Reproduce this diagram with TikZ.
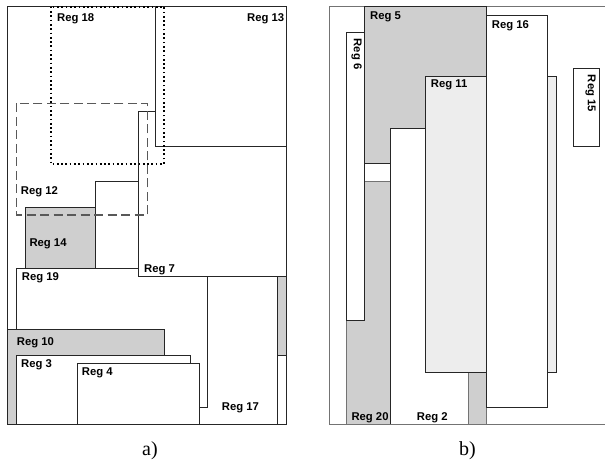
\documentclass[tikz,border=0pt]{standalone}
\usepackage{fontspec}
\setmainfont{Liberation Serif}
\newfontfamily\regfont{Liberation Sans}
\tikzset{
  reg/.style={draw=black!85, line width=0.8pt, fill=white},
  gray reg/.style={reg, fill=black!19},
  light reg/.style={reg, fill=black!7},
  frameb/.style={draw=black!55, line width=1pt, fill=white},
  lbl/.style={font=\regfont\bfseries\fontsize{11.3}{13}\selectfont, inner sep=0pt, anchor=base west},
  rlbl/.style={font=\regfont\bfseries\fontsize{11.3}{13}\selectfont, inner sep=0pt, rotate=-90},
  captxt/.style={font=\fontsize{20}{23}\selectfont, inner sep=0pt},
  dashreg/.style={draw=black!65, line width=1.2pt, dash pattern=on 9pt off 4.5pt},
  dotreg/.style={draw=black, line width=1.7pt, dash pattern=on 1.7pt off 2.6pt}
}
\begin{document}
\begin{tikzpicture}[x=1pt,y=-1pt]
\useasboundingbox (0,0) rectangle (605,464);
\clip (0,0) rectangle (605,464);
% ---------- panel a ----------
\draw[reg] (7.3,6.7) rectangle (286,424.3);
\draw[reg] (180,276.7) rectangle (277.3,424.3);
\draw[gray reg] (277.3,276.7) rectangle (286,355);
\draw[reg] (16.3,268.3) rectangle (207.7,407.3);
\draw[reg] (95,181.7) rectangle (138.3,268.3);
\draw[gray reg] (25.3,207.3) rectangle (95,268.3);
\draw[reg] (138.3,111.7) rectangle (286,276.7);
\draw[reg] (155.3,6.7) rectangle (286,146);
\draw[gray reg] (7.3,329) rectangle (164,424.3);
\draw[reg] (16.3,355) rectangle (190.3,424.3);
\draw[reg] (77.3,363.3) rectangle (199.3,424.3);
\draw[dashreg] (16.7,103.3) rectangle (147.3,215);
\draw[dotreg] (50.7,6.7) rectangle (164,164);
\node[lbl] (r18) at (57,21) {Reg 18};
\node[lbl] (r13) at (247,21) {Reg 13};
\node[lbl] (r12) at (20.7,194) {Reg 12};
\node[lbl] (r14) at (29.3,246.7) {Reg 14};
\node[lbl] (r7) at (144,272.3) {Reg 7};
\node[lbl] (r19) at (21.7,280.7) {Reg 19};
\node[lbl] (r10) at (16.7,345.7) {Reg 10};
\node[lbl] (r3) at (21,367.7) {Reg 3};
\node[lbl] (r4) at (81.7,375.7) {Reg 4};
\node[lbl] (r17) at (221.7,410.7) {Reg 17};
% ---------- panel b ----------
\draw[frameb] (329.3,6.7) rectangle (620,424.3);
\draw[gray reg, draw=black!55] (346.7,181.3) rectangle (390.3,424.3);
\draw[gray reg] (364.3,6.7) rectangle (486.3,163.3);
\draw[reg] (346.7,32.7) rectangle (364.3,320);
\draw[reg] (390.3,128.3) rectangle (468.3,424.3);
\draw[gray reg, draw=black!55] (468.3,372.3) rectangle (486.3,424.3);
\draw[light reg] (425.3,76.3) rectangle (556,372.3);
\draw[reg] (486.3,15.3) rectangle (547,407.3);
\draw[reg] (573.3,68) rectangle (599,146);
\draw[draw=black!55, line width=1pt] (329.3,424.3) -- (605,424.3);
\node[lbl] (r5) at (370,19) {Reg 5};
\node[lbl] (r16) at (491.7,28.3) {Reg 16};
\node[lbl] (r11) at (430.7,87.3) {Reg 11};
\node[lbl] (r20) at (351.3,420) {Reg 20};
\node[lbl] (r2) at (416.7,420) {Reg 2};
\node[rlbl] (r6) at (356.5,54) {Reg 6};
\node[rlbl] (r15) at (590.5,93.5) {Reg 15};
% ---------- captions ----------
\node[captxt] (ca) at (150,451) {a)};
\node[captxt] (cb) at (467.5,451) {b)};
\end{tikzpicture}
\end{document}
